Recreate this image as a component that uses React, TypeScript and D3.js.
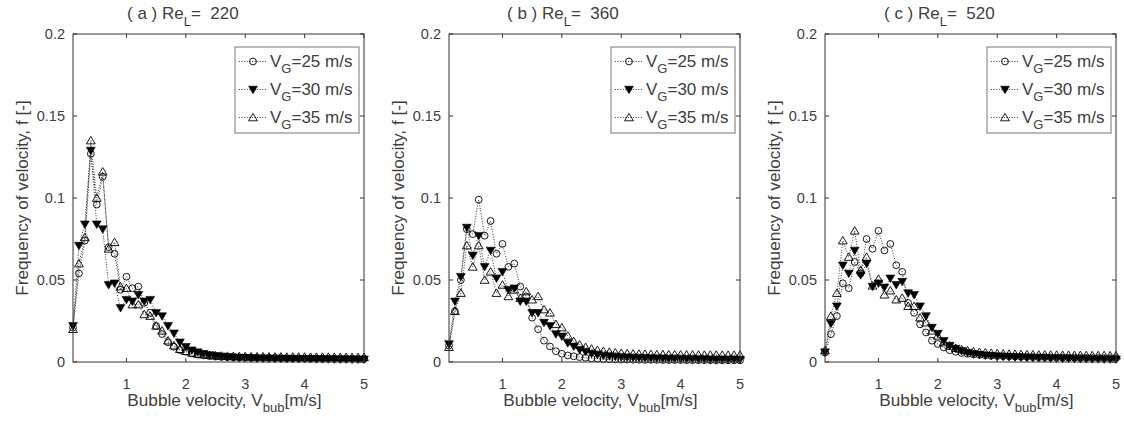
import React from "react";
import * as d3 from "d3";

const velocity = [
  0.1, 0.2, 0.3, 0.4, 0.5, 0.6, 0.7, 0.8, 0.9, 1.0,
  1.1, 1.2, 1.3, 1.4, 1.5, 1.6, 1.7, 1.8, 1.9, 2.0,
  2.1, 2.2, 2.3, 2.4, 2.5, 2.6, 2.7, 2.8, 2.9, 3.0,
  3.1, 3.2, 3.3, 3.4, 3.5, 3.6, 3.7, 3.8, 3.9, 4.0,
  4.1, 4.2, 4.3, 4.4, 4.5, 4.6, 4.7, 4.8, 4.9, 5.0,
];

const panelLetters = ["a", "b", "c"];
const reynolds = [220, 360, 520];
const gasVelocities = [25, 30, 35];
const xTicks = [1, 2, 3, 4, 5];
const yTicks = [0, 0.05, 0.1, 0.15, 0.2];
const yTickLabels = ["0", "0.05", "0.1", "0.15", "0.2"];

// Panel (a) Re_L = 220
const a25 = [
  0.021, 0.054, 0.074, 0.127, 0.096, 0.113, 0.070, 0.066, 0.044, 0.052,
  0.045, 0.046, 0.036, 0.030, 0.022, 0.017, 0.012, 0.0093, 0.0073, 0.0063,
  0.0052, 0.0045, 0.0040, 0.0036, 0.0033, 0.0031, 0.0029, 0.0028, 0.0027, 0.0026,
  0.0025, 0.0025, 0.0024, 0.0024, 0.0023, 0.0023, 0.0022, 0.0022, 0.0022, 0.0021,
  0.0021, 0.0021, 0.0020, 0.0020, 0.0020, 0.0019, 0.0019, 0.0019, 0.0018, 0.0018,
];
const a30 = [
  0.022, 0.071, 0.084, 0.129, 0.084, 0.081, 0.047, 0.048, 0.033, 0.038,
  0.037, 0.041, 0.037, 0.038, 0.030, 0.028, 0.022, 0.0175, 0.012, 0.0093,
  0.0072, 0.0060, 0.0050, 0.0043, 0.0038, 0.0034, 0.0031, 0.0029, 0.0027, 0.0025,
  0.0024, 0.0023, 0.0022, 0.0022, 0.0021, 0.0021, 0.0020, 0.0020, 0.0019, 0.0019,
  0.0019, 0.0018, 0.0018, 0.0018, 0.0017, 0.0017, 0.0017, 0.0016, 0.0016, 0.0016,
];
const a35 = [
  0.020, 0.060, 0.076, 0.135, 0.100, 0.116, 0.069, 0.073, 0.046, 0.045,
  0.035, 0.035, 0.029, 0.028, 0.022, 0.019, 0.013, 0.010, 0.0078, 0.0066,
  0.0056, 0.0049, 0.0045, 0.0041, 0.0039, 0.0037, 0.0036, 0.0035, 0.0034, 0.0034,
  0.0033, 0.0033, 0.0033, 0.0032, 0.0032, 0.0032, 0.0031, 0.0031, 0.0031, 0.0031,
  0.0030, 0.0030, 0.0030, 0.0030, 0.0030, 0.0029, 0.0029, 0.0029, 0.0029, 0.0029,
];

// Panel (b) Re_L = 360
const b25 = [
  0.010, 0.031, 0.050, 0.081, 0.078, 0.099, 0.077, 0.086, 0.066, 0.072,
  0.058, 0.060, 0.046, 0.040, 0.027, 0.020, 0.013, 0.0095, 0.0066, 0.0050,
  0.0040, 0.0035, 0.0030, 0.0026, 0.0022, 0.0020, 0.0018, 0.0017, 0.0016, 0.0015,
  0.0015, 0.0014, 0.0014, 0.0013, 0.0013, 0.0013, 0.0012, 0.0012, 0.0012, 0.0012,
  0.0011, 0.0011, 0.0011, 0.0011, 0.0011, 0.0010, 0.0010, 0.0010, 0.0010, 0.0010,
];
const b30 = [
  0.011, 0.037, 0.052, 0.082, 0.065, 0.077, 0.058, 0.068, 0.051, 0.055,
  0.044, 0.045, 0.037, 0.037, 0.030, 0.030, 0.024, 0.022, 0.017, 0.0156,
  0.0116, 0.0095, 0.0075, 0.0062, 0.0052, 0.0045, 0.0040, 0.0036, 0.0033, 0.0030,
  0.0028, 0.0027, 0.0026, 0.0025, 0.0024, 0.0023, 0.0022, 0.0021, 0.0021, 0.0020,
  0.0019, 0.0019, 0.0018, 0.0018, 0.0017, 0.0017, 0.0016, 0.0016, 0.0016, 0.0015,
];
const b35 = [
  0.009, 0.031, 0.042, 0.071, 0.058, 0.071, 0.050, 0.055, 0.042, 0.047,
  0.040, 0.044, 0.039, 0.043, 0.038, 0.040, 0.032, 0.030, 0.023, 0.021,
  0.016, 0.0126, 0.0105, 0.0090, 0.0080, 0.0072, 0.0066, 0.0061, 0.0057, 0.0054,
  0.0052, 0.0050, 0.0049, 0.0048, 0.0047, 0.0046, 0.0046, 0.0045, 0.0045, 0.0044,
  0.0044, 0.0044, 0.0043, 0.0043, 0.0043, 0.0043, 0.0042, 0.0042, 0.0042, 0.0042,
];

// Panel (c) Re_L = 520
const c25 = [
  0.0057, 0.017, 0.028, 0.048, 0.045, 0.061, 0.054, 0.075, 0.069, 0.080,
  0.068, 0.072, 0.059, 0.055, 0.036, 0.030, 0.023, 0.018, 0.013, 0.011,
  0.0088, 0.0072, 0.0062, 0.0055, 0.0050, 0.0046, 0.0043, 0.0040, 0.0038, 0.0036,
  0.0035, 0.0034, 0.0033, 0.0032, 0.0031, 0.0030, 0.0029, 0.0029, 0.0028, 0.0027,
  0.0027, 0.0026, 0.0026, 0.0025, 0.0025, 0.0024, 0.0024, 0.0023, 0.0023, 0.0023,
];
const c30 = [
  0.006, 0.0235, 0.034, 0.059, 0.054, 0.068, 0.053, 0.060, 0.046, 0.048,
  0.0455, 0.051, 0.047, 0.049, 0.042, 0.041, 0.034, 0.028, 0.021, 0.0173,
  0.0129, 0.010, 0.0082, 0.0068, 0.0058, 0.0050, 0.0045, 0.0041, 0.0038, 0.0035,
  0.0033, 0.0031, 0.0029, 0.0028, 0.0027, 0.0026, 0.0025, 0.0024, 0.0023, 0.0022,
  0.0021, 0.0021, 0.0020, 0.0019, 0.0019, 0.0018, 0.0018, 0.0017, 0.0017, 0.0016,
];
const c35 = [
  0.007, 0.028, 0.042, 0.074, 0.064, 0.080, 0.056, 0.064, 0.0465, 0.0506,
  0.041, 0.0435, 0.038, 0.039, 0.034, 0.034, 0.027, 0.024, 0.019, 0.016,
  0.0118, 0.0098, 0.0085, 0.0076, 0.0069, 0.0064, 0.0060, 0.0057, 0.0054, 0.0052,
  0.0050, 0.0049, 0.0048, 0.0047, 0.0046, 0.0045, 0.0044, 0.0044, 0.0043, 0.0043,
  0.0042, 0.0042, 0.0041, 0.0041, 0.0041, 0.0040, 0.0040, 0.0040, 0.0039, 0.0039,
];

const panelSeries = [
  [a25, a30, a35],
  [b25, b30, b35],
  [c25, c30, c35],
];

const W = 1124;
const H = 427;
const panelLefts = [73, 449, 825];
const titleStarts = [127, 507, 884];
const plotW = 291;
const plotTop = 34;
const plotBottom = 362;
const FONT = "'Liberation Sans', Arial, Helvetica, sans-serif";
const TXT = "#404040";
const AX = "#333";

type MarkerKind = "circle" | "down" | "up";
const markerKinds: MarkerKind[] = ["circle", "down", "up"];

function Marker({ kind, x, y }: { kind: MarkerKind; x: number; y: number }) {
  if (kind === "circle") {
    return <circle cx={x} cy={y} r={3.4} fill="none" stroke="#000" strokeWidth={0.9} />;
  }
  const s = 4.4;
  if (kind === "down") {
    return (
      <path
        d={`M${x - s},${y - s * 0.75} L${x + s},${y - s * 0.75} L${x},${y + s * 0.95} Z`}
        fill="#000"
        stroke="#000"
        strokeWidth={0.6}
      />
    );
  }
  return (
    <path
      d={`M${x - s},${y + s * 0.75} L${x + s},${y + s * 0.75} L${x},${y - s * 0.95} Z`}
      fill="none"
      stroke="#000"
      strokeWidth={0.9}
    />
  );
}

function Panel({ idx }: { idx: number }) {
  const left = panelLefts[idx];
  const right = left + plotW;
  const x = d3.scaleLinear().domain([0.1, 5]).range([left, right]);
  const y = d3.scaleLinear().domain([0, 0.2]).range([plotBottom, plotTop]);
  const line = d3
    .line<number>()
    .x((_, i) => x(velocity[i]))
    .y((d) => y(d));
  const series = panelSeries[idx];
  const tickLen = 4;

  const legLeft = right - 129;
  const legTop = plotTop + 13;
  const legW = 124;
  const legH = 86;
  const rowY = [legTop + 14.5, legTop + 42.5, legTop + 70.5];

  return (
    <g>
      <rect x={left} y={plotTop} width={plotW} height={plotBottom - plotTop} fill="#fff" />
      {series.map((vals, si) => (
        <path
          key={"l" + si}
          d={line(vals) || ""}
          fill="none"
          stroke="#222"
          strokeWidth={0.9}
          strokeDasharray="1,1.6"
        />
      ))}
      {series.map((vals, si) => (
        <g key={"m" + si}>
          {vals.map((v, i) => (
            <Marker key={i} kind={markerKinds[si]} x={x(velocity[i])} y={y(v)} />
          ))}
        </g>
      ))}
      <rect
        x={left}
        y={plotTop}
        width={plotW}
        height={plotBottom - plotTop}
        fill="none"
        stroke={AX}
        strokeWidth={1}
      />
      {xTicks.map((t) => (
        <g key={"xt" + t}>
          <line x1={x(t)} x2={x(t)} y1={plotBottom} y2={plotBottom - tickLen} stroke={AX} />
          <line x1={x(t)} x2={x(t)} y1={plotTop} y2={plotTop + tickLen} stroke={AX} />
          <text
            x={x(t)}
            y={plotBottom + 27}
            textAnchor="middle"
            fontSize={14.5}
            fill={TXT}
            fontFamily={FONT}
          >
            {t}
          </text>
        </g>
      ))}
      {yTicks.map((t, i) => (
        <g key={"yt" + t}>
          <line x1={left} x2={left + tickLen} y1={y(t)} y2={y(t)} stroke={AX} />
          <line x1={right} x2={right - tickLen} y1={y(t)} y2={y(t)} stroke={AX} />
          <text
            x={left - 8}
            y={y(t) + 5}
            textAnchor="end"
            fontSize={14.5}
            fill={TXT}
            fontFamily={FONT}
          >
            {yTickLabels[i]}
          </text>
        </g>
      ))}
      {/* title */}
      <text
        x={titleStarts[idx]}
        y={19}
        fontSize={17}
        fill={TXT}
        fontFamily={FONT}
        style={{ whiteSpace: "pre" }}
      >
        {`( ${panelLetters[idx]} ) Re`}
        <tspan fontSize={13} dy={7}>
          L
        </tspan>
        <tspan dy={-7}>{`=  ${reynolds[idx]}`}</tspan>
      </text>
      {/* x label */}
      <text
        x={(left + right) / 2 + 6}
        y={406}
        textAnchor="middle"
        fontSize={17.2}
        fill={TXT}
        fontFamily={FONT}
      >
        {"Bubble velocity, V"}
        <tspan fontSize={13} dy={6}>
          bub
        </tspan>
        <tspan dy={-6}>[m/s]</tspan>
      </text>
      {/* y label */}
      <text
        transform={`translate(${left - 45},${(plotTop + plotBottom) / 2}) rotate(-90)`}
        textAnchor="middle"
        fontSize={17.2}
        fill={TXT}
        fontFamily={FONT}
      >
        Frequency of velocity, f [-]
      </text>
      {/* legend */}
      <rect x={legLeft} y={legTop} width={legW} height={legH} fill="#fff" stroke="#777" strokeWidth={1} />
      {gasVelocities.map((g, si) => (
        <g key={"lg" + si}>
          <line
            x1={legLeft + 4}
            x2={legLeft + 31}
            y1={rowY[si]}
            y2={rowY[si]}
            stroke="#222"
            strokeWidth={0.9}
            strokeDasharray="1,1.6"
          />
          <Marker kind={markerKinds[si]} x={legLeft + 18} y={rowY[si]} />
          <text
            x={legLeft + 35}
            y={rowY[si] + 5}
            fontSize={17}
            fill={TXT}
            fontFamily={FONT}
          >
            V
            <tspan fontSize={13} dy={6}>
              G
            </tspan>
            <tspan dy={-6}>{`=${g} m/s`}</tspan>
          </text>
        </g>
      ))}
    </g>
  );
}

export default function App() {
  return (
    <svg width={W} height={H} style={{ display: "block", position: "absolute", left: 0, top: 0 }}>
      <rect x={0} y={0} width={W} height={H} fill="#fff" />
      {panelLetters.map((_, i) => (
        <Panel key={i} idx={i} />
      ))}
    </svg>
  );
}
